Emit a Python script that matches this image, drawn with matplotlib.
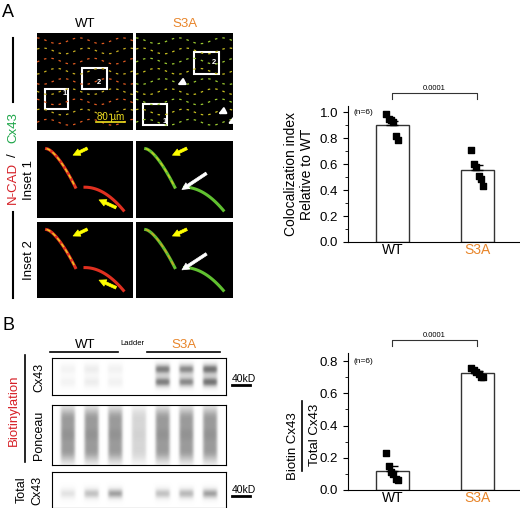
import numpy as np
import matplotlib
matplotlib.use('Agg')
import matplotlib.pyplot as plt
from matplotlib.patches import Rectangle

plt.rcParams['font.family'] = ['Liberation Sans', 'DejaVu Sans']

ORANGE = '#e8852a'
RED = '#d62027'
GREEN = '#1fa64a'

# data
groups = ['WT', 'S3A']
coloc_wt = [0.99, 0.95, 0.94, 0.93, 0.82, 0.79]
coloc_s3a = [0.71, 0.60, 0.58, 0.51, 0.49, 0.43]
biotin_wt = [0.23, 0.15, 0.11, 0.10, 0.07, 0.065]
biotin_s3a = [0.76, 0.745, 0.73, 0.72, 0.70, 0.70]
p_value = '0.0001'

# blot lane intensities (WT x3, ladder, S3A x3)
cx43_biot_lanes = [0.12, 0.18, 0.14, 0.0, 0.75, 0.7, 0.8]
ponceau_lanes = [0.55, 0.55, 0.55, 0.3, 0.55, 0.55, 0.55]
cx43_total_lanes = [0.25, 0.45, 0.6, 0.0, 0.45, 0.5, 0.6]

W, H = 520, 508
fig = plt.figure(figsize=(W / 100, H / 100), dpi=100)


def ax_px(x0, y0, x1, y1):
    return fig.add_axes([x0 / W, 1 - y1 / H, (x1 - x0) / W, (y1 - y0) / H])


def ftext(x, y, s, **kw):
    fig.text(x / W, 1 - y / H, s, **kw)


def fline(xs, ys, **kw):
    fig.add_artist(plt.Line2D([x / W for x in xs], [1 - y / H for y in ys], **kw))


# ---------- panel A images ----------
def micro(x0, y0, x1, y1):
    a = ax_px(x0, y0, x1, y1)
    a.set_facecolor('black')
    a.set_xlim(0, 1)
    a.set_ylim(0, 1)
    a.set_xticks([])
    a.set_yticks([])
    for s in a.spines.values():
        s.set_visible(False)
    return a


t = np.linspace(0, 1, 40)
wt_main = micro(37, 33, 133, 130)
s3_main = micro(136, 33, 233, 130)
for a, cols in [(wt_main, ['#e05a20', '#c8b020']), (s3_main, ['#9ac830', '#c8c020'])]:
    for i in range(9):
        yy = 0.08 + i * 0.105
        a.plot(t, yy + 0.03 * np.sin(t * 14 + i), ls=(0, (2, 4)), color=cols[i % 2], lw=0.9)
wt_main.add_patch(Rectangle((0.08, 0.22), 0.24, 0.2, fill=False, ec='white', lw=1.5))
wt_main.add_patch(Rectangle((0.47, 0.42), 0.26, 0.22, fill=False, ec='white', lw=1.5))
wt_main.text(0.27, 0.36, '1', color='white', fontsize=5.5, fontweight='bold')
wt_main.text(0.62, 0.47, '2', color='white', fontsize=5.5, fontweight='bold')
wt_main.plot([0.61, 0.92], [0.08, 0.08], color='#f0e020', lw=1.2)
wt_main.text(0.62, 0.1, '80 µm', color='#f0e020', fontsize=7)
s3_main.add_patch(Rectangle((0.07, 0.05), 0.25, 0.22, fill=False, ec='white', lw=1.5))
s3_main.add_patch(Rectangle((0.6, 0.58), 0.26, 0.22, fill=False, ec='white', lw=1.5))
s3_main.text(0.27, 0.07, '1', color='white', fontsize=5.5, fontweight='bold')
s3_main.text(0.78, 0.68, '2', color='white', fontsize=5.5, fontweight='bold')
for (xa, ya) in [(0.4, 0.45), (0.82, 0.15), (0.92, 0.05)]:
    s3_main.annotate('', xy=(xa, ya), xytext=(xa + 0.1, ya + 0.05),
                     arrowprops=dict(arrowstyle='-|>', color='white', lw=1.5))

inset_boxes = [(37, 141, 133, 218), (136, 141, 233, 218), (37, 222, 133, 298), (136, 222, 233, 298)]
inset_cols = [('#e03020', '#e8d020'), ('#60c030', '#c8c820'), ('#e03020', '#e8d020'), ('#60c030', '#d0a020')]
for k, (box, cols) in enumerate(zip(inset_boxes, inset_cols)):
    a = micro(*box)
    a.plot(0.1 + 0.3 * t, 0.9 - 0.5 * t ** 1.5, color=cols[0], lw=2.2)
    a.plot(0.1 + 0.3 * t, 0.9 - 0.5 * t ** 1.5, color=cols[1], lw=1, ls=(0, (3, 2)))
    a.plot(0.5 + 0.4 * t, 0.4 - 0.3 * t ** 2, color=cols[0], lw=2.2)
    arrow_col = 'yellow'
    a.annotate('', xy=(0.35, 0.8), xytext=(0.55, 0.92),
               arrowprops=dict(arrowstyle='simple', color=arrow_col, lw=0.5))
    if k % 2 == 1:
        a.annotate('', xy=(0.45, 0.35), xytext=(0.75, 0.6),
                   arrowprops=dict(arrowstyle='simple', color='white', lw=0.5))
    else:
        a.annotate('', xy=(0.62, 0.25), xytext=(0.85, 0.12),
                   arrowprops=dict(arrowstyle='simple', color=arrow_col, lw=0.5))

ftext(2, 17, 'A', fontsize=13)
ftext(85, 27, 'WT', fontsize=9.5, ha='center')
ftext(185, 27, 'S3A', fontsize=9.5, ha='center', color=ORANGE)
fline([13, 13], [38, 102], color='black', lw=1.5)
fline([13, 13], [212, 298], color='black', lw=1.5)
ftext(13, 183, 'N-CAD', rotation=90, fontsize=9.5, color=RED, ha='center', va='center')
ftext(13, 155, '/', rotation=90, fontsize=9.5, ha='center', va='center')
ftext(13, 128, 'Cx43', rotation=90, fontsize=9.5, color=GREEN, ha='center', va='center')
ftext(29, 180, 'Inset 1', rotation=90, fontsize=9.5, ha='center', va='center')
ftext(29, 260, 'Inset 2', rotation=90, fontsize=9.5, ha='center', va='center')

# ---------- panel B blots ----------
def blot(y0, y1, lanes, band_rows, spread):
    a = ax_px(52, y0, 226, y1)
    nx, ny = 300, 80
    img = np.zeros((ny, nx))
    yy = np.linspace(0, 1, ny)[:, None]
    xx = np.linspace(0, 1, nx)[None, :]
    centers = np.linspace(0.09, 0.91, len(lanes))
    for c, v in zip(centers, lanes):
        lane = np.exp(-((xx - c) / 0.045) ** 6)
        prof = sum(np.exp(-((yy - r) / spread) ** 2) for r in band_rows)
        img += v * lane * prof
    a.imshow(img, cmap='Greys', vmin=0, vmax=1.3, aspect='auto', extent=(0, 1, 1, 0))
    a.set_xticks([])
    a.set_yticks([])
    return a


blot(358, 395, cx43_biot_lanes, [0.3, 0.65], 0.15)
blot(405, 465, ponceau_lanes, [0.2, 0.5, 0.8], 0.2)
blot(472, 508, cx43_total_lanes, [0.6], 0.15)

ftext(2, 330, 'B', fontsize=13)
ftext(85, 348, 'WT', fontsize=9.5, ha='center')
ftext(132, 345, 'Ladder', fontsize=5.5, ha='center')
ftext(184, 348, 'S3A', fontsize=9.5, ha='center', color=ORANGE)
fline([50, 118], [352, 352], color='black', lw=1.2)
fline([147, 220], [352, 352], color='black', lw=1.2)
fline([25, 25], [355, 462], color='black', lw=1.2)
ftext(14, 410, 'Biotinylation', rotation=90, fontsize=9.5, color=RED, ha='center', va='center')
ftext(39, 377, 'Cx43', rotation=90, fontsize=9, ha='center', va='center')
ftext(39, 435, 'Ponceau', rotation=90, fontsize=9, ha='center', va='center')
ftext(22, 490, 'Total', rotation=90, fontsize=9, ha='center', va='center')
ftext(37, 490, 'Cx43', rotation=90, fontsize=9, ha='center', va='center')
for yb in (385, 496):
    ftext(232, yb - 3, '40kD', fontsize=7.5)
    fline([232, 250], [yb, yb], color='black', lw=2)

# ---------- bar charts ----------
def bar_chart(box, wt, s3a, ylim, yticks, ylabel_fn):
    a = ax_px(*box)
    data = [wt, s3a]
    means = [np.mean(d) for d in data]
    sems = [np.std(d, ddof=1) / np.sqrt(len(d)) for d in data]
    x = np.arange(len(groups))
    a.bar(x, means, width=0.39, color='white', edgecolor='#333333', lw=1)
    a.errorbar(x, means, yerr=[[0, 0], sems], fmt='none', ecolor='black', capsize=4, lw=1.3)
    for xi, d in zip(x, data):
        offs = np.linspace(-0.07, 0.07, len(d))
        a.scatter(xi + offs, d, marker='s', s=16, color='black', zorder=3)
    a.set_xlim(-0.52, 1.5)
    a.set_ylim(*ylim)
    a.set_yticks(yticks)
    a.set_yticklabels([f'{v:.1f}' for v in yticks], fontsize=9.5)
    a.yaxis.set_minor_locator(matplotlib.ticker.MultipleLocator(yticks[1] / 2))
    a.set_xticks(x)
    a.set_xticklabels(groups, fontsize=10)
    a.get_xticklabels()[1].set_color(ORANGE)
    a.tick_params(axis='x', length=0, pad=1)
    for s in ('top', 'right'):
        a.spines[s].set_visible(False)
    a.text(0.03, yticks[-1], '(n=6)', fontsize=6, va='center', transform=a.get_yaxis_transform())
    ylabel_fn(a)
    return a


def lab_top(a):
    a.set_ylabel('Colocalization index\nRelative to WT', fontsize=10)


def lab_bot(a):
    a.text(-0.32, 0.32, 'Biotin Cx43', rotation=90, fontsize=9.5, ha='center', va='center',
           transform=a.transAxes)
    a.text(-0.19, 0.40, 'Total Cx43', rotation=90, fontsize=9.5, ha='center', va='center',
           transform=a.transAxes)
    a.plot([-0.265, -0.265], [0.14, 0.65], color='black', lw=1.2, transform=a.transAxes, clip_on=False)


bar_chart((348, 106, 520, 242), coloc_wt, coloc_s3a, (0, 1.05), [0.0, 0.2, 0.4, 0.6, 0.8, 1.0], lab_top)
bar_chart((348, 353, 520, 490), biotin_wt, biotin_s3a, (0, 0.85), [0.0, 0.2, 0.4, 0.6, 0.8], lab_bot)

for yb in (93, 340):
    fline([392, 392, 477, 477], [yb + 6, yb, yb, yb + 6], color='#333333', lw=0.8)
    ftext(434, yb - 3, p_value, fontsize=5.5, ha='center')

fig.savefig('out.png', dpi=100)
